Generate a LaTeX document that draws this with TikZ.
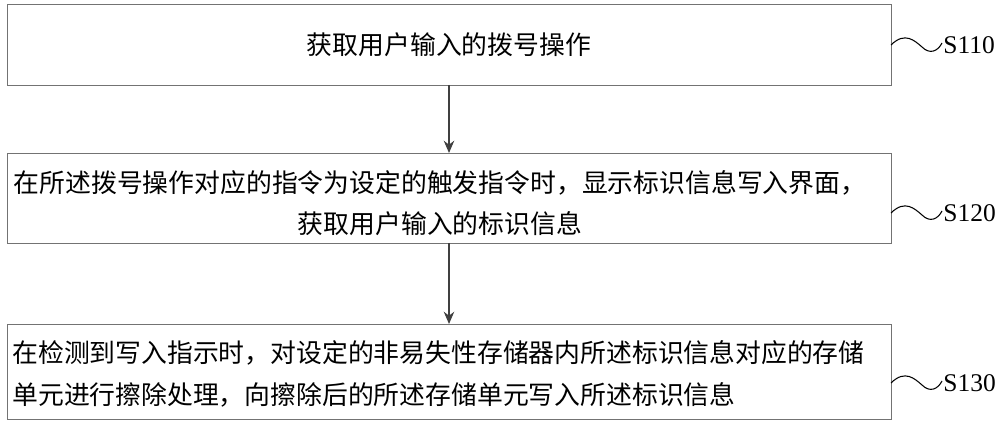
\documentclass[tikz,border=0pt]{standalone}
\usepackage{fontspec}
\setmainfont{Liberation Serif}
\newfontfamily\cjk{Noto Sans CJK SC}
\usetikzlibrary{arrows.meta}
\begin{document}
\begin{tikzpicture}[x=0.02cm,y=-0.02cm,
  boxs/.style={draw=black!55,line width=0.5pt},
  txt/.style={font=\cjk\fontsize{14.7}{23.5}\selectfont,inner sep=0pt},
  lab/.style={font=\fontsize{14.5}{16}\selectfont,anchor=west,inner sep=0pt},
  arr/.style={-{Stealth[length=7pt,width=6pt]},line width=0.8pt,black!75},
  wav/.style={line width=0.6pt}]
\useasboundingbox (0,0) rectangle (1000,425);
\draw[boxs] (7,4) rectangle (891,85);
\draw[boxs] (7,153) rectangle (891,243);
\draw[boxs] (7,324) rectangle (891,419);
\coordinate (b1) at (449,85); \coordinate (t2) at (449,153);
\coordinate (b2) at (449,243); \coordinate (t3) at (449,324);
\node[txt] (n1) at (449,45) {获取用户输入的拨号操作};
\node[txt,align=center] (n2) at (440,203) {在所述拨号操作对应的指令为设定的触发指令时，显示标识信息写入界面，\\获取用户输入的标识信息};
\node[txt,align=left,anchor=west] (n3) at (12,374) {在检测到写入指示时，对设定的非易失性存储器内所述标识信息对应的存储\\单元进行擦除处理，向擦除后的所述存储单元写入所述标识信息};
\draw[arr] (b1) -- (t2);
\draw[arr] (b2) -- (t3);
\foreach \y/\s in {45/S110,213/S120,383/S130}{
  \coordinate (w\s) at (891,\y);
  \draw[wav] (w\s) .. controls (905,\y-14) and (915,\y-4) .. (922,\y+2) .. controls (930,\y+10) and (938,\y+6) .. (942,\y-2);
  \node[lab] (l\s) at (943,\y) {\s};
}
\end{tikzpicture}
\end{document}
